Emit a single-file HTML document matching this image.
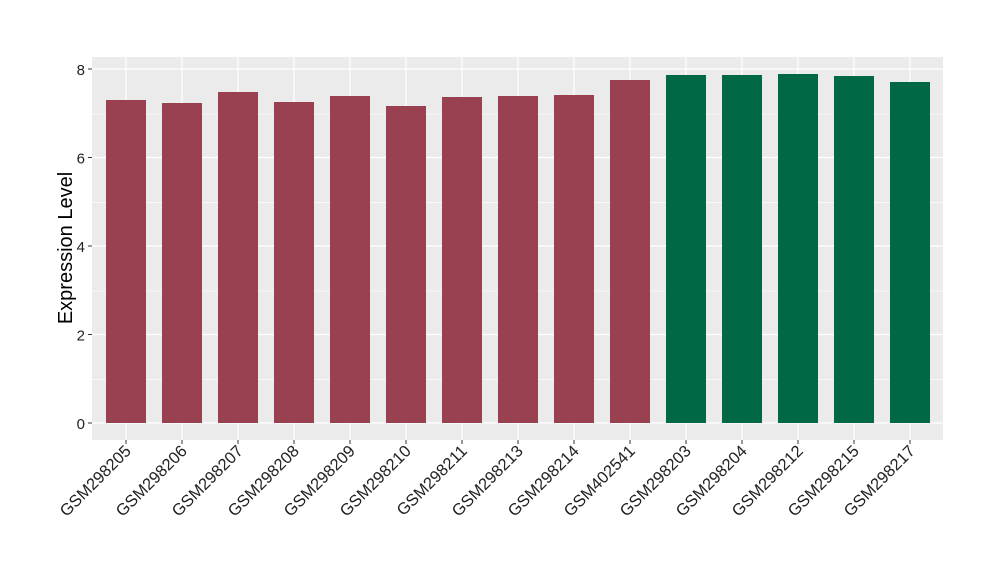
<!DOCTYPE html>
<html><head><meta charset="utf-8"><style>body{margin:0;background:#fff}</style></head><body>
<svg width="1000" height="580" xmlns="http://www.w3.org/2000/svg" font-family="Liberation Sans, sans-serif">
<rect x="92" y="57" width="851" height="383" fill="#EBEBEB"/>
<g stroke="#fff" stroke-width="0.6">
<line x1="92" x2="943" y1="379.6" y2="379.6"/><line x1="92" x2="943" y1="291.1" y2="291.1"/><line x1="92" x2="943" y1="202.6" y2="202.6"/><line x1="92" x2="943" y1="114.1" y2="114.1"/>
</g>
<g stroke="#fff" stroke-width="1.2">
<line x1="92" x2="943" y1="423" y2="423"/><line x1="92" x2="943" y1="334.5" y2="334.5"/><line x1="92" x2="943" y1="246" y2="246"/><line x1="92" x2="943" y1="157.5" y2="157.5"/><line x1="92" x2="943" y1="69" y2="69"/>
<g id="vg"></g>
</g>
<g id="bars"></g>
<g font-size="15" text-anchor="end" fill="#222">
<text x="85" y="429">0</text><text x="85" y="340.5">2</text><text x="85" y="252">4</text><text x="85" y="163.5">6</text><text x="85" y="75">8</text>
</g>
<g stroke="#333" stroke-width="1">
<line x1="88" x2="92" y1="423" y2="423"/><line x1="88" x2="92" y1="334.5" y2="334.5"/><line x1="88" x2="92" y1="246" y2="246"/><line x1="88" x2="92" y1="157.5" y2="157.5"/><line x1="88" x2="92" y1="69" y2="69"/>
</g>
<text transform="translate(72,248) rotate(-90)" font-size="20" text-anchor="middle" fill="#000">Expression Level</text>
<g id="lbl" font-size="16.5" fill="#222" text-anchor="end"></g>
</svg>
<script>
var names=["GSM298205","GSM298206","GSM298207","GSM298208","GSM298209","GSM298210","GSM298211","GSM298213","GSM298214","GSM402541","GSM298203","GSM298204","GSM298212","GSM298215","GSM298217"];
var tops=[100,103,92,102,96,106,97,96,95,80,75,75,74,76,82];
var ns="http://www.w3.org/2000/svg",b=document.getElementById("bars"),l=document.getElementById("lbl"),v=document.getElementById("vg"),svg=b.ownerSVGElement;
for(var i=0;i<15;i++){var c=126+56*i;
var ln=document.createElementNS(ns,"line");ln.setAttribute("x1",c);ln.setAttribute("x2",c);ln.setAttribute("y1",57);ln.setAttribute("y2",440);v.appendChild(ln);
var r=document.createElementNS(ns,"rect");r.setAttribute("x",c-20);r.setAttribute("width",40);r.setAttribute("y",tops[i]);r.setAttribute("height",423-tops[i]);r.setAttribute("fill",i<10?"#994151":"#006845");b.appendChild(r);
var t=document.createElementNS(ns,"line");t.setAttribute("x1",c);t.setAttribute("x2",c);t.setAttribute("y1",440);t.setAttribute("y2",444);t.setAttribute("stroke","#333");svg.appendChild(t);
var tx=document.createElementNS(ns,"text");tx.setAttribute("transform","translate("+(c+6)+",452) rotate(-45)");tx.textContent=names[i];l.appendChild(tx);}
</script>
</body></html>
